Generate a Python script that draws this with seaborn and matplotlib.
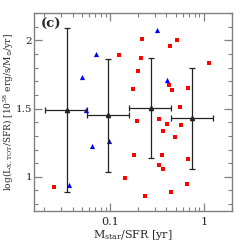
import numpy as np
import pandas as pd
import matplotlib
matplotlib.use("Agg")
import matplotlib.pyplot as plt
from matplotlib.ticker import MultipleLocator, FixedLocator, NullFormatter, FuncFormatter
import seaborn as sns

# Data
red_x = [0.0254, 0.1257, 0.1456, 0.174, 0.180, 0.192, 0.199, 0.214, 0.221, 0.234,
         0.332, 0.332, 0.360, 0.366, 0.366, 0.410, 0.428, 0.438, 0.449, 0.460,
         0.488, 0.512, 0.556, 0.578, 0.665, 0.676, 0.676, 1.148]
red_y = [0.929, 1.890, 0.988, 1.645, 1.158, 1.409, 1.776, 1.873, 2.012, 0.856,
         1.426, 1.090, 1.158, 1.338, 1.054, 1.387, 1.672, 1.956, 0.888, 1.637,
         1.294, 2.002, 1.509, 1.382, 0.946, 1.131, 1.654, 1.830]
blue_x = [0.0363, 0.0508, 0.0551, 0.0644, 0.0716, 0.0969, 0.316, 0.410]
blue_y = [0.942, 1.730, 1.487, 1.229, 1.903, 1.263, 2.075, 1.708]

bin_x = [0.0349, 0.0953, 0.271, 0.757]
bin_y = [1.489, 1.450, 1.504, 1.428]
bin_lo = [0.0204, 0.0574, 0.160, 0.449]
bin_hi = [0.0574, 0.159, 0.449, 1.256]
bin_yerr = [0.600, 0.416, 0.368, 0.368]

x_label = r"M$_{\rm star}$/SFR [yr]"
y_label = r"log(L$_{\rm X,TOT}$/SFR) [10$^{38}$ erg/s/M$_{\odot}$/yr]"
panel_label = "(c)"

sns.set_style("ticks")
plt.rcParams['font.family'] = ['DejaVu Serif']
plt.rcParams['mathtext.fontset'] = 'dejavuserif'

fig = plt.figure(figsize=(2.45, 2.45), dpi=100)
ax = fig.add_axes([0.139, 0.139, 0.808, 0.808])

red_df = pd.DataFrame({"x": red_x, "y": red_y})
blue_df = pd.DataFrame({"x": blue_x, "y": blue_y})

sns.scatterplot(data=red_df, x="x", y="y", ax=ax, marker="s", color="#ff0000",
                s=11, linewidth=0, zorder=3)
sns.scatterplot(data=blue_df, x="x", y="y", ax=ax, marker="^", color="#0000ff",
                s=14, linewidth=0, zorder=3)

bx = np.array(bin_x)
xerr = np.vstack([bx - np.array(bin_lo), np.array(bin_hi) - bx])
ax.errorbar(bin_x, bin_y, xerr=xerr, yerr=bin_yerr, fmt="^", color="#222222",
            ms=3, elinewidth=0.9, capsize=2.5, capthick=0.9, zorder=4)

ax.set_xscale("log")
ax.set_xlim(0.0155, 2.0)
ax.set_ylim(0.75, 2.2)

ax.set_xlabel(x_label, fontsize=8)
ax.set_ylabel(y_label, fontsize=6.5)
ax.yaxis.set_label_coords(-0.098, 0.5)
ax.xaxis.set_label_coords(0.5, -0.085)

ax.xaxis.set_major_locator(FixedLocator([0.1, 1]))
ax.xaxis.set_major_formatter(FuncFormatter(lambda v, p: "0.1" if abs(v - 0.1) < 1e-6 else "1"))
minors = [m * 10.0 ** e for e in (-2, -1, 0) for m in range(2, 10)]
ax.xaxis.set_minor_locator(FixedLocator(minors))
ax.xaxis.set_minor_formatter(NullFormatter())
ax.yaxis.set_major_locator(FixedLocator([1, 1.5, 2]))
ax.yaxis.set_major_formatter(FuncFormatter(lambda v, p: "{:g}".format(v)))
ax.yaxis.set_minor_locator(MultipleLocator(0.1))

ax.tick_params(which="both", direction="in", top=True, right=True, color="#808080",
               labelsize=7.5, pad=1.5)
ax.tick_params(which="major", length=6, width=0.9)
ax.tick_params(which="minor", length=3, width=0.8)
ax.tick_params(axis="x", which="both", pad=4, labelsize=8)
for s in ax.spines.values():
    s.set_color("#808080")
    s.set_linewidth(1.0)

ax.text(0.035, 0.975, panel_label, transform=ax.transAxes, fontsize=9.5,
        fontweight="bold", ha="left", va="top")

fig.savefig("out.png", dpi=100)
